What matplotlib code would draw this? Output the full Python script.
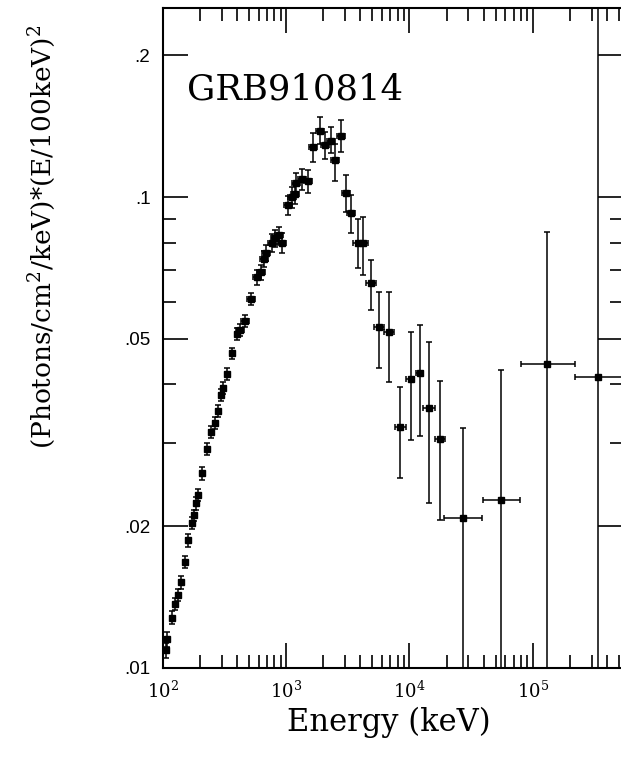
import numpy as np
import matplotlib.pyplot as plt
from matplotlib.ticker import FixedLocator, FixedFormatter, LogLocator, NullFormatter

# energy (keV) and E^2-weighted flux
E = [106, 108, 118, 125, 132, 140, 151, 160, 172, 179, 186, 193,
     208, 228, 246, 265, 280, 296, 307, 331, 364, 400,
     423, 464, 519, 581, 626, 662, 688, 769, 814, 877, 928,
     1038, 1119, 1184, 1206, 1349, 1510,
     1658, 1890, 2076, 2322, 2502, 2801,
     3075, 3378, 3850, 4227, 4911, 5703, 6878,
     8450, 10380, 12060, 14270, 17530,
     26970, 54930, 129960, 337800]
F = [0.0109, 0.0115, 0.0128, 0.0137, 0.0143, 0.0152, 0.0168, 0.0187, 0.0203, 0.0211, 0.0224, 0.0233,
     0.0259, 0.0292, 0.0317, 0.0331, 0.0351, 0.0380, 0.0393, 0.0421, 0.0466, 0.0512,
     0.0522, 0.0545, 0.0607, 0.0676, 0.0693, 0.0739, 0.0761, 0.0799, 0.0818, 0.0830, 0.0799,
     0.0962, 0.1000, 0.1015, 0.1071, 0.1092, 0.1081,
     0.1277, 0.1381, 0.1289, 0.1315, 0.1199, 0.1348,
     0.1020, 0.0925, 0.0799, 0.0799, 0.0657, 0.0530, 0.0517,
     0.0325, 0.0411, 0.0423, 0.0357, 0.0306,
     0.0208, 0.0227, 0.0442, 0.0415]

# y errors: symmetric for the low energy part, asymmetric above
ysym = [0.0004, 0.0004, 0.0004, 0.0004, 0.0004, 0.0005, 0.0005, 0.0006, 0.0006, 0.0006,
        0.0007, 0.0007, 0.0008, 0.0009, 0.0009, 0.0010, 0.0010, 0.0011, 0.0011, 0.0012,
        0.0013, 0.0014, 0.0015, 0.0016, 0.0018, 0.0025, 0.0025, 0.0030, 0.0030, 0.0035,
        0.0035, 0.0035, 0.0040, 0.0045, 0.0050, 0.0050, 0.0055, 0.0055, 0.0060]
yup = [0.0091, 0.0098, 0.0085, 0.0093, 0.0097, 0.0109, 0.0093, 0.0085, 0.0099, 0.0108, 0.0078,
       0.0098, 0.0111, 0.0070, 0.0106, 0.0112, 0.0135, 0.0101, 0.0115, 0.0202, 0.0401, 0.30]
ydn = [0.0090, 0.0085, 0.0084, 0.0075, 0.0119, 0.0102, 0.0091, 0.0086, 0.0092, 0.0116, 0.0081,
       0.0096, 0.0112, 0.0072, 0.0106, 0.0112, 0.0133, 0.0100, 0.0200, 0.0220, 0.0435, 0.0410]

# energy bin half widths
xsym = [4, 4, 5, 5, 5, 5, 6, 6, 7, 7, 7, 7, 8, 9, 9, 10, 11, 11, 12, 13, 14, 15,
        33, 36, 40, 45, 49, 52, 54, 60, 63, 68, 72, 81, 87, 92, 94, 105,
        118, 129, 147, 162, 181, 195, 218, 240, 263, 377, 414]
xlo = [440, 560, 674, 758, 926, 870, 1510, 1560, 8070, 15700, 50060, 118200]
xhi = [480, 560, 674, 1004, 600, 700, 1700, 1730, 11530, 23470, 89640, 201200]

ytick_vals = [0.01, 0.02, 0.05, 0.1, 0.2]
ytick_labels = ['.01', '.02', '.05', '.1', '.2']
yminor_vals = [0.03, 0.04, 0.06, 0.07, 0.08, 0.09]

plt.rcParams['mathtext.fontset'] = 'dejavuserif'
plt.rcParams['font.family'] = 'DejaVu Serif'

fig = plt.figure(figsize=(6.21, 7.62), dpi=100)
ax = fig.add_axes([163/621, 1-668/762, 460/621, 660/762])
ax.set_xscale('log')
ax.set_yscale('log')

ax.errorbar(E, F,
            xerr=[xsym + xlo, xsym + xhi],
            yerr=[ysym + ydn, ysym + yup],
            fmt='s', color='k', ms=4, elinewidth=1.1, capsize=2.5, capthick=1.1)

ax.set_xlim(100, 5.4e5)
ax.set_ylim(0.01, 0.252)

ax.xaxis.set_minor_locator(LogLocator(base=10, subs=range(2, 10)))
ax.xaxis.set_minor_formatter(NullFormatter())
ax.yaxis.set_major_locator(FixedLocator(ytick_vals))
ax.yaxis.set_major_formatter(FixedFormatter(ytick_labels))
ax.yaxis.set_minor_locator(FixedLocator(yminor_vals))
ax.yaxis.set_minor_formatter(NullFormatter())

ax.tick_params(which='both', direction='in', top=True, right=True, width=1.2)
ax.tick_params(which='major', length=18)
ax.tick_params(which='minor', length=9.5)
ax.tick_params(axis='x', labelsize=13, pad=9)
ax.tick_params(axis='y', labelsize=13.5, pad=9, labelfontfamily='Liberation Sans')
for s in ax.spines.values():
    s.set_linewidth(1.5)

fig.text(187/621, 1-99/762, 'GRB910814', fontsize=25.5, ha='left', va='baseline')
fig.text(389/621, 1-722/762, 'Energy (keV)', fontsize=22, ha='center', va='center')
fig.text(42/621, 1-237/762, '(Photons/cm$^2$/keV)*(E/100keV)$^2$', fontsize=19,
         rotation=90, ha='center', va='center')

fig.savefig('out.png', dpi=100)
